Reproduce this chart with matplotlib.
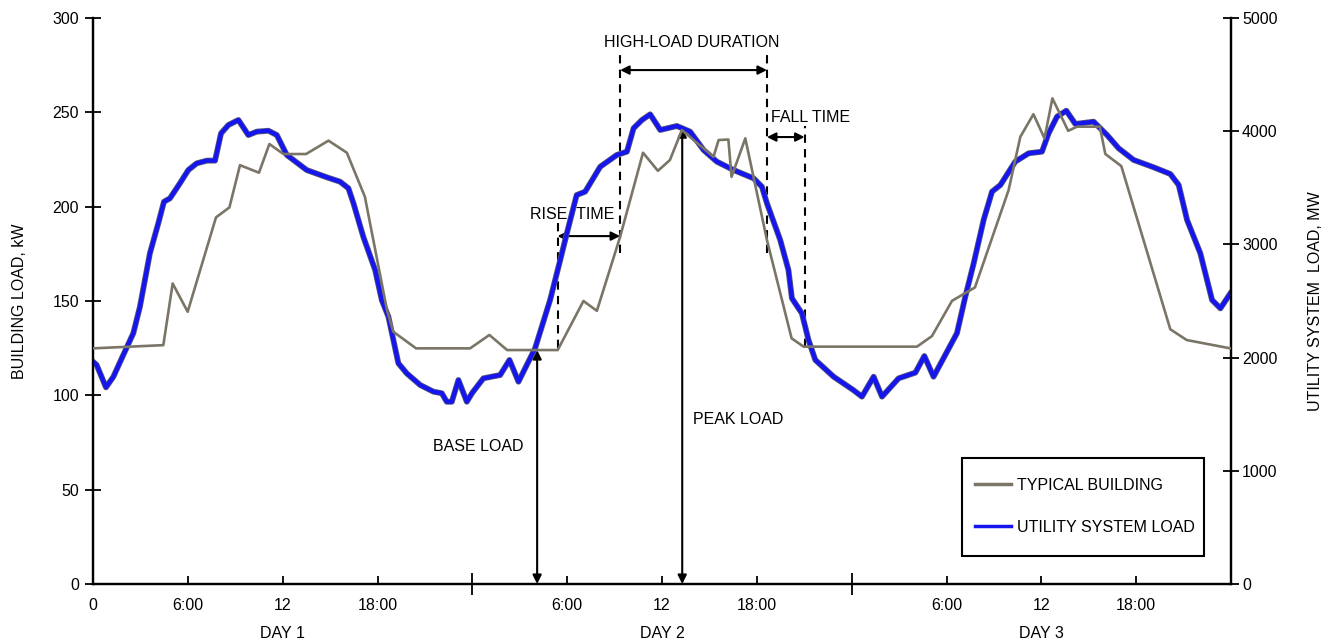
import matplotlib
matplotlib.use("Agg")
import matplotlib.pyplot as plt
import matplotlib.patheffects as pe
import matplotlib.transforms as mtransforms
from matplotlib.patches import Rectangle

plt.rcParams['font.family'] = ['Liberation Sans', 'DejaVu Sans']

# Typical building load (hours, kW)
bld_hours = [0, 4.45, 5.04, 5.99, 7.78, 8.63, 9.30, 10.5, 11.16, 12.05, 13.48, 14.9, 16.06, 17.2,
             18.6, 19.0, 20.44, 23.86, 25.08, 26.2, 29.4, 31.03, 31.88, 33.35, 34.8, 35.74, 36.5,
             37.26, 39.26, 39.58, 40.2, 40.4, 41.27, 42.64, 44.2, 44.96, 52.13, 53.08, 54.35, 55.8,
             57.93, 58.67, 59.5, 60.2, 60.7, 61.7, 62.26, 63.7, 64.05, 65.06, 68.16, 69.2, 71.96]
bld_kw = [124.9, 126.6, 159.3, 144.3, 194.3, 199.6, 222, 218, 233.2, 227.9, 227.9, 235, 228.6, 205.3,
          145.2, 133.7, 124.9, 124.9, 132, 124, 124, 150, 144.8, 184, 228.6, 219, 224.7,
          240.6, 226.4, 235.3, 235.6, 215.8, 236.2, 182.3, 130.2, 125.8, 125.8, 131.4, 150.1, 157.2,
          208.8, 237, 249, 236.2, 257.4, 240.2, 242.4, 242.4, 227.9, 221.5, 135, 129.3, 124.9]

# Utility system load (hours, MW)
util_hours = [0, 0.23, 0.82, 1.29, 1.82, 2.55, 2.97, 3.6, 4.13, 4.49, 4.87, 5.5, 6.03, 6.56, 7.2, 7.72,
              8.1, 8.57, 9.2, 9.83, 10.36, 11.1, 11.63, 12.26, 13.52, 14.79, 15.63, 16.16, 16.48, 17.1,
              17.85, 18.27, 18.69, 19.32, 19.85, 20.7, 21.54, 22.07, 22.38, 22.7, 23.12, 23.65, 24.0,
              24.7, 25.76, 26.35, 26.92, 27.97, 28.92, 29.56, 29.98, 30.6, 31.14, 32.09, 33.14, 33.78,
              34.2, 34.73, 35.25, 35.89, 36.94, 37.78, 38.63, 39.47, 40.53, 41.79, 42.32, 42.64, 43.48,
              44.0, 44.22, 44.85, 45.27, 45.7, 46.86, 48.1, 48.65, 49.39, 49.92, 50.97, 52.03, 52.6,
              53.18, 54.66, 55.19, 55.72, 56.35, 56.88, 57.41, 58.35, 59.2, 60.04, 60.46, 60.99, 61.58,
              62.15, 63.31, 64.16, 64.89, 65.84, 67.11, 68.16, 68.69, 69.22, 70.06, 70.59, 70.8, 71.33,
              71.96]
util_mw = [1964, 1935, 1737, 1831, 1994, 2215, 2450, 2921, 3186, 3377, 3407, 3540, 3657, 3716, 3740, 3740,
           3981, 4055, 4099, 3966, 3996, 4004, 3966, 3790, 3657, 3593, 3554, 3496, 3363, 3068,
           2774, 2509, 2361, 1950, 1861, 1758, 1699, 1685, 1610, 1610, 1802, 1610, 1690,
           1817, 1846, 1979, 1787, 2082, 2509, 2862, 3098, 3436, 3466, 3686, 3790, 3819,
           4026, 4099, 4149, 4011, 4046, 3996, 3834, 3731, 3657, 3584, 3510, 3363, 3039,
           2774, 2524, 2391, 2155, 1979, 1831, 1714, 1655, 1831, 1655, 1817, 1867, 2014,
           1831, 2215, 2538, 2833, 3216, 3466, 3525, 3731, 3805, 3819, 3981, 4128, 4181,
           4064, 4084, 3966, 3849, 3746, 3681, 3622, 3525, 3216, 2921, 2627, 2509, 2435,
           2568]

xtick_pos = [0, 6, 12, 18, 30, 36, 42, 54, 60, 66]
xtick_labels = ['0', '6:00', '12', '18:00', '6:00', '12', '18:00', '6:00', '12', '18:00']
day_bounds = [24, 48]
day_labels = ['DAY 1', 'DAY 2', 'DAY 3']
day_centers = [12, 36, 60]
left_ticks = [0, 50, 100, 150, 200, 250, 300]
right_ticks = [0, 1000, 2000, 3000, 4000, 5000]

fig = plt.figure(figsize=(13.31, 6.42), dpi=100)
ax = fig.add_axes([93/1331, 58/642, 1138/1331, 566/642])
ax2 = ax.twinx()

FS = 11.5
ax.set_xlim(0, 72)
ax.set_ylim(0, 300)
ax2.set_ylim(0, 5000)

for a in (ax, ax2):
    a.spines['top'].set_visible(False)
    for s in ('left', 'right', 'bottom'):
        a.spines[s].set_linewidth(1.6)
        a.spines[s].set_color('black')
    a.patch.set_visible(False)

ax.set_yticks(left_ticks)
ax.tick_params(axis='y', direction='inout', length=12, width=1.3, labelsize=FS, pad=4)
ax2.set_yticks(right_ticks)
ax2.tick_params(axis='y', direction='inout', length=12, width=1.3, labelsize=FS, pad=2)

ax.set_xticks(xtick_pos)
ax.set_xticklabels(xtick_labels)
ax.set_xticks(day_bounds, minor=True)
ax.tick_params(axis='x', which='major', direction='in', length=6, width=1.3, labelsize=FS, pad=10)
ax.tick_params(axis='x', which='minor', direction='inout', length=16, width=1.3)

ax.set_ylabel('BUILDING LOAD, kW', fontsize=FS, labelpad=18)
ax2.set_ylabel('UTILITY SYSTEM  LOAD, MW', fontsize=FS, labelpad=22)

trans = mtransforms.blended_transform_factory(ax.transData, ax.transAxes)
for c, lab in zip(day_centers, day_labels):
    ax.text(c, -0.087, lab, transform=trans, ha='center', va='center', fontsize=FS)

# lines
l_util, = ax2.plot(util_hours, util_mw, color='#1515f0', lw=3.0, solid_joinstyle='round',
                   path_effects=[pe.Stroke(linewidth=4.2, foreground='#55557a'), pe.Normal()],
                   label='UTILITY SYSTEM LOAD', zorder=2)
l_bld, = ax2.plot([h for h in bld_hours], [k * 5000 / 300 for k in bld_kw], color='#7a7566', lw=1.9,
                  label='TYPICAL BUILDING', zorder=3)

# annotations (in building-load coordinates)
dash = dict(color='black', lw=1.5, ls=(0, (4, 3)))
ax.plot([33.35, 33.35], [175.4, 283], **dash)
ax.plot([42.64, 42.64], [175.4, 283], **dash)
ax.plot([29.39, 29.39], [125, 192.9], **dash)
ax.plot([45.02, 45.02], [125.8, 242.7], **dash)

arr = dict(arrowstyle='<|-|>', color='black', lw=1.5, mutation_scale=13, shrinkA=0, shrinkB=0)
ax.annotate('', xy=(33.35, 272.4), xytext=(42.64, 272.4), arrowprops=arr)
ax.annotate('', xy=(29.39, 184.4), xytext=(33.35, 184.4), arrowprops=arr)
ax.annotate('', xy=(42.64, 236.9), xytext=(45.02, 236.9), arrowprops=arr)
ax.annotate('', xy=(28.1, 0), xytext=(28.1, 124), arrowprops=arr)
ax.annotate('', xy=(37.28, 0), xytext=(37.28, 241.6), arrowprops=arr)

ax.text(37.9, 287.2, 'HIGH-LOAD DURATION', ha='center', va='center', fontsize=FS)
ax.text(30.3, 196.0, 'RISE  TIME', ha='center', va='center', fontsize=FS)
ax.text(45.4, 247.5, 'FALL TIME', ha='center', va='center', fontsize=FS)
ax.text(24.37, 73.1, 'BASE LOAD', ha='center', va='center', fontsize=FS)
ax.text(37.97, 87.4, 'PEAK LOAD', ha='left', va='center', fontsize=FS)

# legend frame drawn separately, legend itself frameless
ax2.add_patch(Rectangle(((962 - 93) / 1138, (584 - 556) / 566), 242 / 1138, 98 / 566,
                        transform=ax2.transAxes, fill=True, facecolor='white',
                        edgecolor='black', lw=1.5, zorder=5))
leg = ax2.legend(handles=[l_bld, l_util], loc='center left',
                 bbox_to_anchor=((975 - 93) / 1138, (584 - 506.5) / 566),
                 borderaxespad=0, borderpad=0, fontsize=FS, frameon=False,
                 handlelength=2.25, handletextpad=0.4, labelspacing=1.69)
leg.set_zorder(6)
for h in leg.get_lines():
    h.set_path_effects([])
    h.set_linewidth(2.5)

fig.savefig('out.png', dpi=100)
